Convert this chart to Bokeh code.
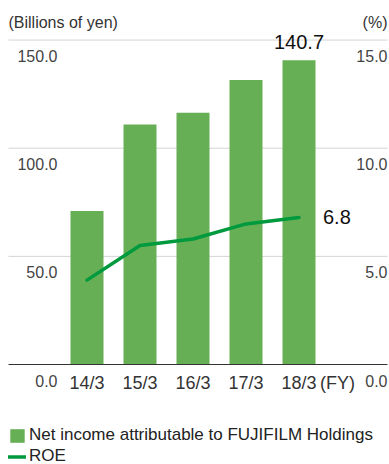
from bokeh.plotting import figure
from bokeh.models import (ColumnDataSource, Range1d, LabelSet, Label,
                          Legend, LegendItem)
from bokeh.core.properties import value
from bokeh.embed import file_html
from bokeh.resources import INLINE

# ---- data ----
years = ["14/3", "15/3", "16/3", "17/3", "18/3"]
net_income = [71.0, 111.0, 116.4, 131.5, 140.7]   # billions of yen
roe = [3.9, 5.5, 5.8, 6.5, 6.8]                   # %
left_ticks = [0, 50, 100, 150]
left_tick_labels = ["0.0", "50.0", "100.0", "150.0"]
right_ticks = [0, 5, 10, 15]
right_tick_labels = ["0.0", "5.0", "10.0", "15.0"]

FONT = "Liberation Sans"
BAR = "#66AF55"
LINE = "#009A3E"

W, H = 389, 464
X0_PX, DX_PX = 86.5, 53.0      # centre of first bar, bar pitch
ZERO_PX, PPU = 364.0, 2.163    # baseline pixel row, pixels per billion

xs = list(range(len(years)))
p = figure(width=W, height=H, output_backend="svg", toolbar_location=None,
           x_axis_location=None, y_axis_location=None, min_border=0,
           outline_line_color=None,
           x_range=Range1d(-X0_PX / DX_PX, (W - X0_PX) / DX_PX),
           y_range=Range1d(-(H - ZERO_PX) / PPU, ZERO_PX / PPU))
p.xgrid.visible = False
p.ygrid.visible = False
p.extra_y_ranges = {"roe": Range1d(-(H - ZERO_PX) / PPU / 10, ZERO_PX / PPU / 10)}

src = ColumnDataSource(dict(x=xs, year=years, ni=net_income, roe=roe))

# gridlines
gx0 = (8 - X0_PX) / DX_PX
gx1 = (387 - X0_PX) / DX_PX
grid = ColumnDataSource(dict(y=left_ticks[1:], x0=[gx0] * 3, x1=[gx1] * 3))
p.segment(x0="x0", x1="x1", y0="y", y1="y", source=grid,
          line_color="#d4d4d4", line_width=1)

bars = p.vbar(x="x", top="ni", width=33 / DX_PX, source=src,
              fill_color=BAR, line_color=None)
p.segment(x0=[gx0], x1=[gx1], y0=[0], y1=[0], line_color="#333333", line_width=1)

line = p.line(x="x", y="roe", source=src, y_range_name="roe",
              line_color=LINE, line_width=3.5, line_join="round", line_cap="round")

# tick labels (left / right)
lsrc = ColumnDataSource(dict(y=left_ticks, t=left_tick_labels))
rsrc = ColumnDataSource(dict(y=right_ticks, t=right_tick_labels))
for s, xpx, rng in ((lsrc, 57, "default"), (rsrc, 387, "roe")):
    ls = LabelSet(x=xpx, y="y", text="t", source=s, x_units="screen",
                  y_range_name=rng, text_align="right", text_baseline="middle",
                  y_offset=-16, text_font=value(FONT), text_font_size="16px",
                  text_color="#444444")
    p.add_layout(ls)

# category labels
cl = LabelSet(x="x", y=0, text="year", source=src, text_align="center",
              text_baseline="middle", y_offset=-18, text_font=value(FONT),
              text_font_size="18px", text_color="#333333")
p.add_layout(cl)
p.add_layout(Label(x=337, y=H - 382, x_units="screen", y_units="screen", text="(FY)",
                   text_align="center", text_baseline="middle", text_font=FONT,
                   text_font_size="18px", text_color="#333333"))

# unit labels
p.add_layout(Label(x=8, y=H - 22, x_units="screen", y_units="screen",
                   text="(Billions of yen)", text_align="left", text_baseline="middle",
                   text_font=FONT, text_font_size="16px", text_color="#333333"))
p.add_layout(Label(x=387, y=H - 22, x_units="screen", y_units="screen",
                   text="(%)", text_align="right", text_baseline="middle",
                   text_font=FONT, text_font_size="16px", text_color="#333333"))

# value callouts
last = len(years) - 1
p.add_layout(Label(x=xs[last], y=net_income[last], text=f"{net_income[last]:.1f}",
                   text_align="center", text_baseline="alphabetic", y_offset=18,
                   text_font=FONT, text_font_size="20px", text_color="#111111"))
p.add_layout(Label(x=xs[last], y=roe[last], y_range_name="roe", text=f"{roe[last]:.1f}",
                   text_align="left", text_baseline="middle", x_offset=24,
                   text_font=FONT, text_font_size="20px", text_color="#111111"))

legend = Legend(items=[
    LegendItem(label="Net income attributable to FUJIFILM Holdings", renderers=[bars]),
    LegendItem(label="ROE", renderers=[line]),
], location=(8, -2), orientation="vertical", padding=0, margin=0, spacing=1,
    glyph_width=18, glyph_height=17, label_height=20, label_standoff=3,
    label_text_font=FONT, label_text_font_size="17px", label_text_color="#222222",
    border_line_alpha=0, background_fill_alpha=0)
p.add_layout(legend, "center")

open("out.html", "w").write(file_html(p, INLINE))
